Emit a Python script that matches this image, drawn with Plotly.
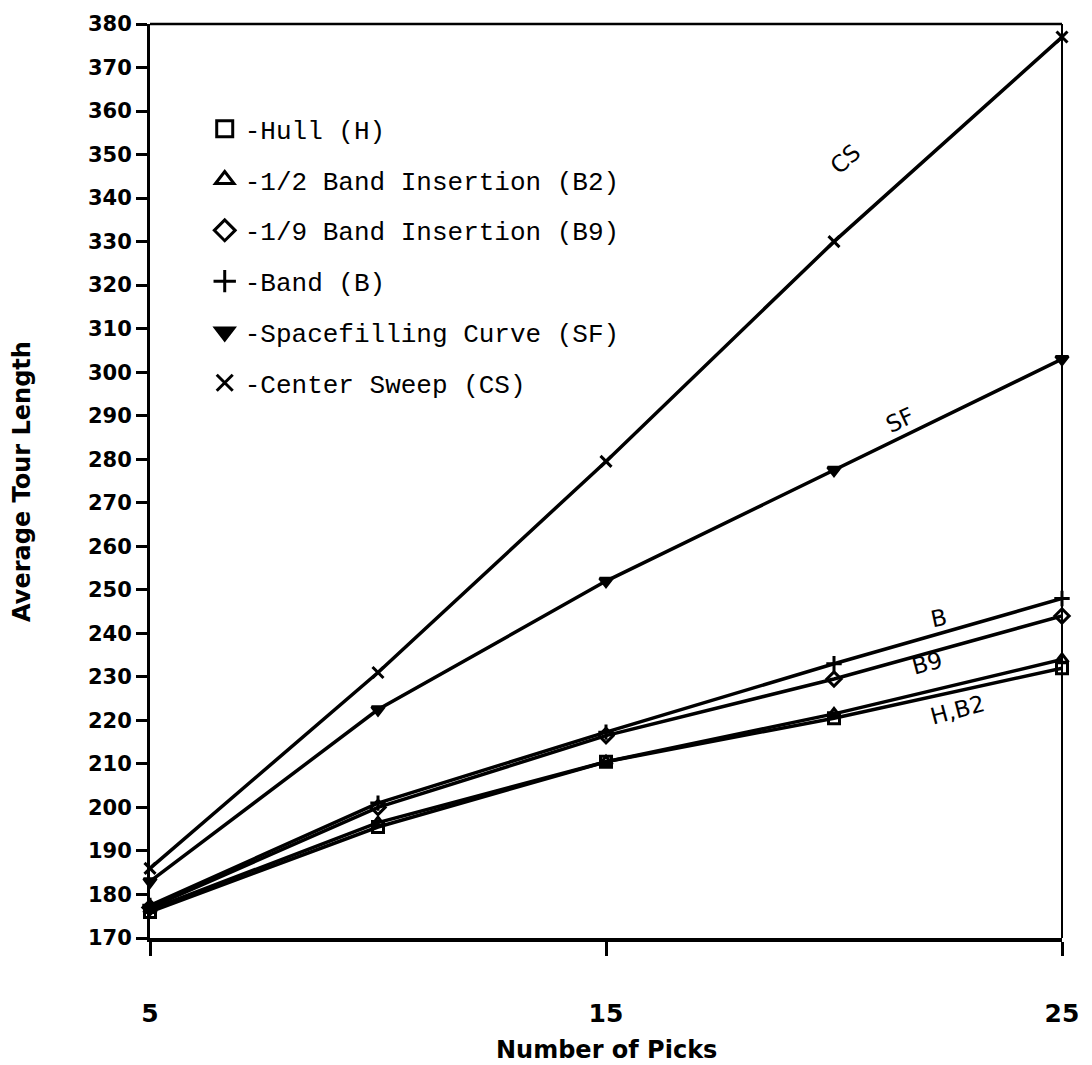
import plotly.graph_objects as go

picks = [5, 10, 15, 20, 25]

hull = [176, 195.5, 210.5, 220.5, 232]
band_half = [176.5, 196.5, 210.5, 221.5, 234]
band_ninth = [177, 200, 216.5, 229.5, 244]
band = [177.5, 201, 217.3, 233, 248]
spacefill = [183, 222.5, 252, 277.5, 303]
center_sweep = [186, 231, 279.5, 330, 377]

series = [
    ("-Hull (H)", hull, "square-open"),
    ("-1/2 Band Insertion (B2)", band_half, "triangle-up-open"),
    ("-1/9 Band Insertion (B9)", band_ninth, "diamond-open"),
    ("-Band (B)", band, "cross-thin-open"),
    ("-Spacefilling Curve (SF)", spacefill, "triangle-down"),
    ("-Center Sweep (CS)", center_sweep, "x-thin-open"),
]

y_ticks = list(range(170, 381, 10))
x_ticks = [5, 15, 25]

line_labels = [
    ("CS", 20.25, 349, -42),
    ("SF", 21.45, 289, -25),
    ("B", 22.3, 243.5, -12),
    ("B9", 22.05, 233.2, -15),
    ("H,B2", 22.7, 222.4, -15),
]

fig = go.Figure()

for name, vals, sym in series:
    fig.add_trace(go.Scatter(
        x=picks, y=vals, mode="lines+markers", showlegend=False,
        line=dict(color="black", width=3.5),
        marker=dict(symbol=sym, size=11, color="black",
                    line=dict(color="black", width=3)),
        cliponaxis=False,
    ))

for i, (name, vals, sym) in enumerate(series):
    fig.add_trace(go.Scatter(
        x=[None], y=[None], mode="markers", name=name,
        legendgroup=f"g{i}",
        marker=dict(symbol=sym, size=16, color="black",
                    line=dict(color="black", width=3)),
    ))

for txt, lx, ly, ang in line_labels:
    fig.add_annotation(x=lx, y=ly, text=txt, showarrow=False, textangle=ang,
                       font=dict(family="DejaVu Sans", size=23, color="black"))

fig.add_annotation(xref="paper", yref="paper", x=-0.1404, y=0.5,
                   xanchor="center", yanchor="middle",
                   text="<b>Average Tour Length</b>", textangle=-90, showarrow=False,
                   font=dict(family="DejaVu Sans", size=24, color="black"))
fig.add_annotation(xref="paper", yref="paper", x=0.5, y=-0.1225,
                   xanchor="center", yanchor="middle",
                   text="<b>Number of Picks</b>", showarrow=False,
                   font=dict(family="DejaVu Sans", size=24, color="black"))

fig.add_shape(type="line", xref="paper", yref="paper", x0=0, x1=1, y0=1, y1=1,
              line=dict(color="black", width=2.5))
fig.add_shape(type="line", xref="paper", yref="paper", x0=1, x1=1, y0=0, y1=1,
              line=dict(color="black", width=2))

fig.update_xaxes(range=[5, 25], tickvals=x_ticks, ticktext=[str(t) for t in x_ticks],
                 automargin=False,
                 showgrid=False, zeroline=False, showline=True, linecolor="black",
                 linewidth=3.5, ticks="outside", ticklen=14, tickwidth=3, tickcolor="black",
                 ticklabelstandoff=36,
                 tickfont=dict(family="DejaVu Sans", size=25, color="black", weight="bold"))
fig.update_yaxes(range=[170, 380], tickvals=y_ticks, ticktext=[str(t) for t in y_ticks],
                 automargin=False,
                 showgrid=False, zeroline=False, showline=True, linecolor="black",
                 linewidth=3, ticks="outside", ticklen=11, tickwidth=3, tickcolor="black",
                 tickfont=dict(family="DejaVu Sans", size=21, color="black", weight="bold"))

fig.update_layout(
    width=1084, height=1057,
    margin=dict(l=142, r=30, t=16, b=127, autoexpand=False),
    paper_bgcolor="white", plot_bgcolor="white",
    showlegend=True,
    legend=dict(x=0.06, y=0.911, xanchor="left", yanchor="top",
                traceorder="grouped", tracegroupgap=14,
                bgcolor="rgba(0,0,0,0)",
                font=dict(family="Liberation Mono", size=26, color="black")),
)

fig.write_html("out.html")
